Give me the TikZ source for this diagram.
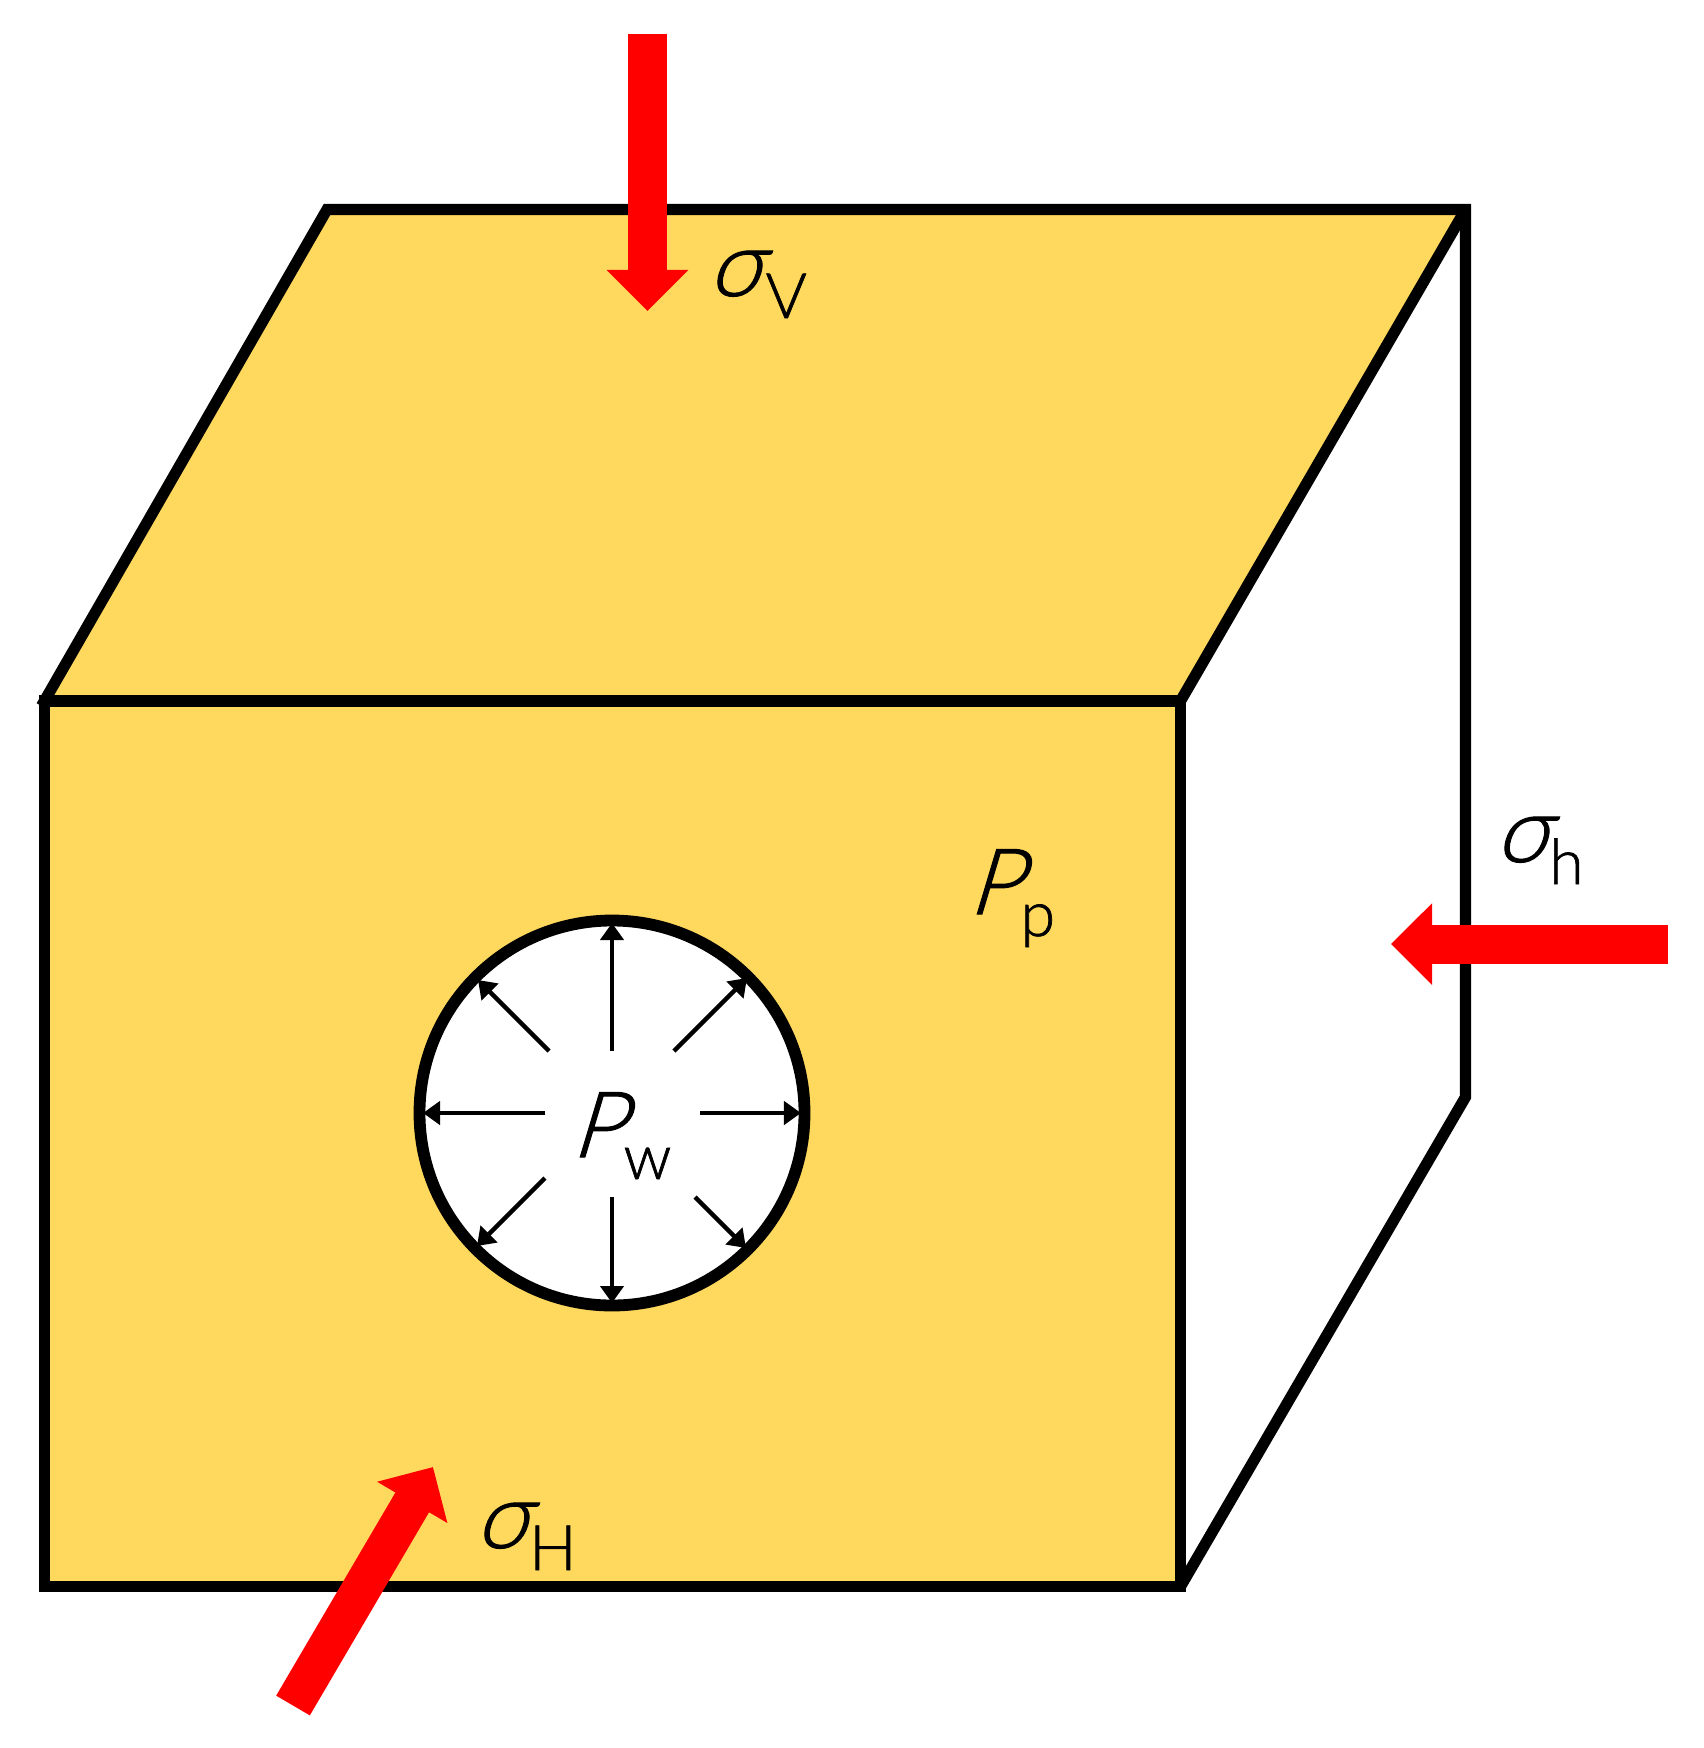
\documentclass[tikz,border=0pt]{standalone}
\usepackage{fontspec}
\newfontfamily\labfont{Lato Light}[FakeSlant = 0.3, FakeBold = 1.1]
\newfontfamily\subfont{Lato Light}[FakeBold = 1.1]
\usetikzlibrary{arrows.meta}
\definecolor{rockyellow}{HTML}{FFD95D}
\tikzset{
	edgeline/.style = {line width = 0.112cm, line join = miter},
	stressarrow/.style = {red, line width = 0.39cm, -{Triangle[length = 0.41cm, width = 0.79cm]}},
	pressarrow/.style = {line width = 0.045cm, -{Triangle[length = 0.17cm, width = 0.23cm]}},
	lab/.style = {inner sep = 0pt, anchor = base west}
}
\newcommand{\labtext}[3]{{\fontsize{26}{28}\labfont #1}\kern #2{}\raisebox{-6.26pt}{\fontsize{17.8}{20}\subfont #3}}
\begin{document}
\begin{tikzpicture}[x = 0.01cm, y = -0.01cm]
	\useasboundingbox (0, 0) rectangle (1704, 1748);
	\coordinate (fronttl) at (44.5, 701);
	\coordinate (cornertl) at (41.5, 706);
	\coordinate (fronttr) at (1180.5, 701);
	\coordinate (frontbr) at (1180.5, 1586.5);
	\coordinate (frontbl) at (44.5, 1586.5);
	\coordinate (backtl) at (327, 209.5);
	\coordinate (backtr) at (1465.5, 209.5);
	\coordinate (backbr) at (1465.5, 1097);
	\coordinate (wellc) at (612, 1113);

	\fill[rockyellow] (fronttl) -- (backtl) -- (backtr) -- (fronttr) -- (frontbr) -- (frontbl) -- cycle;
	\draw[edgeline] (frontbl) rectangle (fronttr);
	\draw[edgeline] (cornertl) -- (backtl) -- (backtr) -- (backbr) -- (frontbr);
	\draw[edgeline] (fronttr) -- (backtr);
	\draw[line width = 0.118cm, fill = white] (wellc) circle (192.5);

	\foreach \name/\sx/\sy/\tx/\ty in {n/612/1051/612/923, s/612/1197/612/1303, w/545/1113/423/1113, e/700/1113/801/1113, nw/549/1051/478/980, ne/674/1051/747/978, sw/545/1178/477/1246, se/695/1197/746/1248} {
		\coordinate (from\name) at (\sx, \sy);
		\coordinate (to\name) at (\tx, \ty);
		\draw[pressarrow] (from\name) -- (to\name);
	}

	\coordinate (vtail) at (647.5, 34);
	\coordinate (vtip) at (647.5, 311);
	\coordinate (htail) at (1668, 944);
	\coordinate (htip) at (1391, 944);
	\coordinate (Htail) at (293, 1705.5);
	\coordinate (Htip) at (433, 1467);
	\draw[stressarrow] (vtail) -- (vtip);
	\draw[stressarrow] (htail) -- (htip);
	\draw[stressarrow] (Htail) -- (Htip);

	\node[lab] (sigmav) at (707, 296) {\labtext{σ}{1.5pt}{V}};
	\node[lab] (sigmah) at (1494, 862) {\labtext{σ}{0.5pt}{h}};
	\node[lab] (sigmaH) at (474, 1548) {\labtext{σ}{0.5pt}{H}};
	\node[lab] (pp) at (967, 914) {\labtext{P}{0pt}{p}};
	\node[lab] (pw) at (570, 1157) {\labtext{P}{0pt}{w}};
\end{tikzpicture}
\end{document}
